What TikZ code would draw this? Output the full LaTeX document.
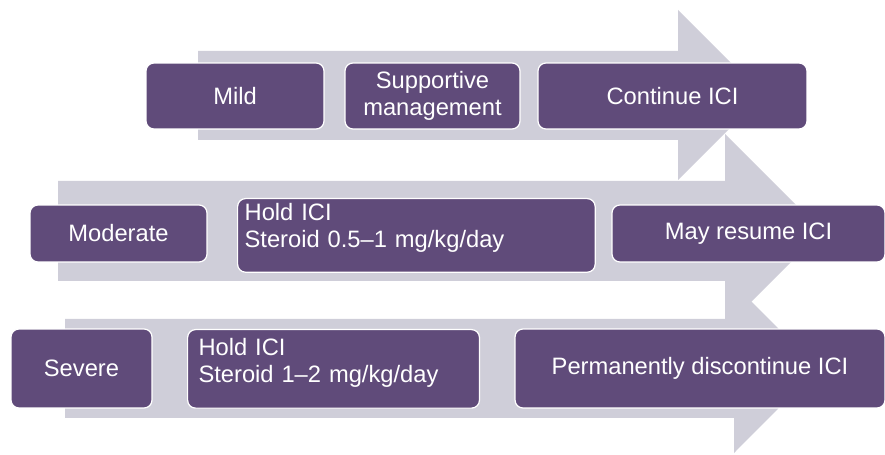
\documentclass[tikz,border=0pt]{standalone}
\usepackage{fontspec}
\setmainfont{Liberation Sans}
\usetikzlibrary{calc}

\definecolor{gradepurple}{RGB}{96,75,122}
\definecolor{bandgray}{RGB}{207,206,217}

\tikzset{
  grade/.style={fill=gradepurple, draw=white, line width=.7pt, rounded corners=4.5pt,
    text=white, font=\fontsize{13.5}{15.5}\selectfont, align=center, inner sep=2pt},
  holdbox/.style={grade, anchor=north west, align=left, text width=#1}
}

\begin{document}
\begin{tikzpicture}[x=.02cm, y=-.02cm]
\useasboundingbox (0,0) rectangle (885,455);

% grey arrows behind each row
\foreach \xl/\xb/\yt/\yb/\ht/\hb/\tip in {198/678/51/140/10/180/763, 58/725/181/281/134/328/822, 65/734/319/418/284/453/818}
  \fill[bandgray] (\xl,\yt) -- (\xb,\yt) -- (\xb,\ht) -- (\tip,{(\ht+\hb)/2}) -- (\xb,\hb) -- (\xb,\yb) -- (\xl,\yb) -- cycle;

% mild
\node[grade, minimum width=3.56cm, minimum height=1.32cm] (mild) at (235,96) {Mild};
\node[grade, minimum width=3.5cm, minimum height=1.32cm] (supportive) at (432.5,96) {Supportive\\management};
\node[grade, minimum width=5.38cm, minimum height=1.32cm] (continue) at (672.5,96) {Continue ICI};

% moderate
\node[grade, minimum width=3.54cm, minimum height=1.14cm] (moderate) at (118.5,233.5) {Moderate};
\node[holdbox=195.5pt, inner xsep=4pt, inner ysep=2.6pt, text depth=26.9pt] (holdmod) at (237,198) {Hold ICI\\Steroid 0.5--1 mg/kg/day};
\node[grade, minimum width=5.46cm, minimum height=1.14cm] (resume) at (748.5,233.5) {May resume ICI};

% severe
\node[grade, minimum width=2.82cm, minimum height=1.58cm] (severe) at (81.5,368.5) {Severe};
\node[holdbox=153.7pt, inner xsep=6.2pt, inner ysep=4.9pt, text depth=25.1pt] (holdsev) at (187,329) {Hold ICI\\Steroid 1--2 mg/kg/day};
\node[grade, minimum width=7.4cm, minimum height=1.58cm] (discontinue) at (700,368.5) {Permanently discontinue ICI};

\end{tikzpicture}
\end{document}
